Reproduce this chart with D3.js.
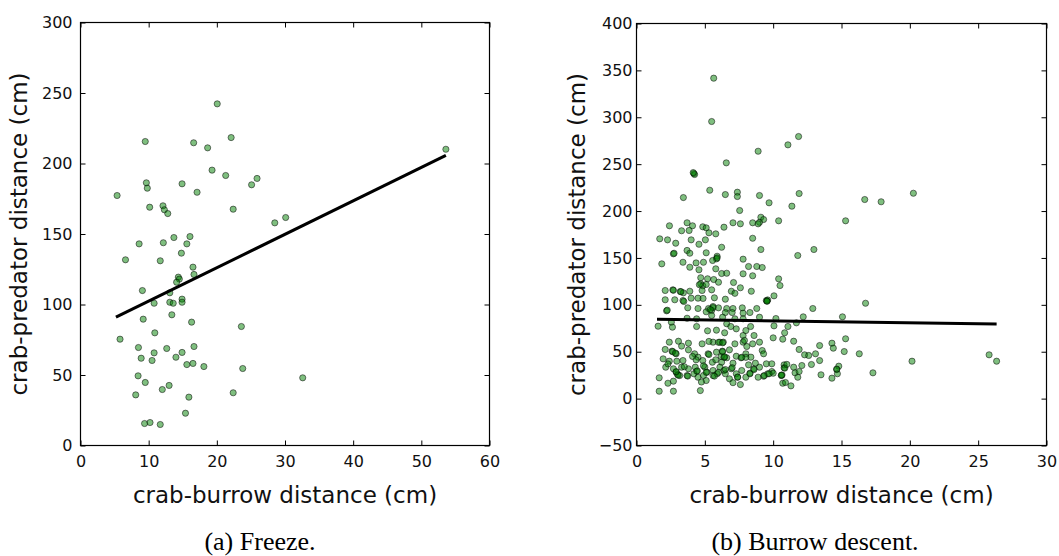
<!DOCTYPE html>
<html><head><meta charset="utf-8">
<script src="https://cdn.jsdelivr.net/npm/d3@7"></script>
<style>body{margin:0;background:#fff} svg{display:block}</style>
</head><body><svg id="c" width="1059" height="556"></svg>
<script>
// ---- Data: (a) Freeze ----
const freezePts = [[20.06,242.3],[9.5,215.6],[16.6,214.7],[22.1,218.4],[18.65,211.1],[19.3,195.3],[21.3,191.5],[25.1,184.9],[25.9,189.4],[9.66,186.3],[9.8,182.5],[14.9,185.6],[17.1,179.6],[5.37,177.3],[10.15,169],[12.1,170],[12.3,167.2],[12.8,164.5],[22.4,167.6],[28.5,157.9],[30.1,161.7],[8.6,143],[12.15,143.8],[13.7,147.5],[16.06,148.2],[15.6,143],[6.6,131.7],[11.7,131],[14.8,136.4],[16.5,126.5],[16.65,121.3],[14.35,119.4],[14.5,118],[14.1,115.8],[9.08,109.9],[13.1,108.3],[10.8,100.9],[13.1,101.6],[13.6,100.9],[14.9,103.8],[14.9,101.6],[9.2,89.6],[13.4,92.7],[16.3,87.5],[23.6,84.4],[10.9,79.9],[5.8,75.4],[8.5,69.5],[10.8,65.7],[12.65,68.8],[14.9,66],[16.65,70.2],[8.9,61.9],[10.5,60.3],[14.0,62.6],[15.6,57.4],[16.5,58.2],[18.1,56],[23.8,54.6],[8.45,49.4],[9.5,44.7],[12.0,39.7],[13.0,42.6],[8.1,35.9],[15.9,34.3],[22.4,37.4],[15.4,22.9],[9.4,15.6],[10.2,16.3],[11.7,14.9],[53.6,210.1],[32.6,48.0]];
const freezeX = freezePts.map(d => d[0]);
const freezeY = freezePts.map(d => d[1]);
const freezeFitX = [5.2, 53.6];
const freezeFitY = [91, 205.7];
const freezeXTicks = [0, 10, 20, 30, 40, 50, 60];
const freezeYTicks = [0, 50, 100, 150, 200, 250, 300];

// ---- Data: (b) Burrow descent ----
const descentPts = [[5.65,341.7],[5.5,295.5],[8.9,263.8],[6.57,251.4],[4.2,240],[4.25,239],[4.15,241],[5.36,222.2],[3.43,214.4],[6.5,217.6],[7.38,220.1],[7.38,215.5],[9.0,216.6],[9.7,208.8],[7.55,200.6],[11.08,270.6],[11.86,279.5],[11.9,218.7],[11.37,205.2],[16.7,212.3],[17.9,209.9],[20.26,219],[20.16,39.9],[25.8,46.7],[26.35,39.9],
[9.1,193.4],[9.3,191],[9.0,188],[10.4,189.6],[15.3,189.6],[9.1,159],[11.8,152.6],[12.98,159],[9.2,139.8],[10.4,127.7],[10.5,120.6],[10.06,109.6],[9.5,104.6],[9.6,105.2],[16.76,101.7],[12.9,96.1],[12.2,87.2],[15.07,87.2],[9.0,86.8],[10.2,85.4],[11.7,80.8],[10.06,77.6],[11.08,76.9],[10.84,70.2],[10.0,64.8],[10.7,63.4],[11.5,61.2],[15.3,63.8],[13.4,56.6],[14.3,59.1],[14.4,53.8],[11.9,52.4],[9.2,51.3],[9.3,47.8],[15.2,50.2],[16.3,47.8],[12.3,46.7],[12.6,46],[13.1,47.8],[13.4,40.6],[9.5,37.1],[9.9,37.1],[10.8,36],[10.8,32.9],[11.5,33.5],[12.1,35.3],[12.8,36.4],[14.8,34.6],[14.65,31],[14.7,26.5],[17.3,27.5],[9.0,33.5],[9.9,28.9],[10.0,27.1],[9.6,26.5],[10.6,24.6],[10.65,25.2],[9.3,23.9],[11.6,27.5],[11.9,28.9],[11.8,22.8],[13.5,25.4],[14.3,21.8],[10.7,16.4],[10.9,17.2],[11.3,13.6],
[7.06,187.5],[7.6,186.4],[8.5,187.5],[8.9,186.4],[2.41,184.3],[3.7,187.5],[4.1,184.3],[4.85,183.2],[5.1,182.1],[3.3,179],[3.85,179.3],[5.3,176.8],[5.8,175.7],[6.4,182.8],[1.7,170.4],[2.27,169.3],[2.87,165.7],[4.0,169.3],[4.57,164.6],[5.04,169.3],[6.23,161.4],[8.5,171],[2.7,154.4],[2.75,155],[3.7,158],[3.9,155],[5.1,155.5],[5.9,151.8],[5.85,149],[3.4,145.4],[3.9,140.1],[4.36,144.7],[4.9,145.4],[5.57,147.3],[1.85,143.7],[7.8,148.7],[8.2,140.9],[8.8,140.9],[4.57,137.4],[5.8,138.4],[6.23,133.4],[6.6,133.7],[7.8,133.1],[8.5,131],[4.7,128.9],[5.2,127.8],[5.65,127],[4.7,122.4],[4.85,120.3],[5.1,121.7],[6.0,124.1],[7.1,123.8],[7.6,118.2],[8.4,114.5],[2.1,115.3],[2.66,116],[3.2,114.2],[3.43,112.8],[3.9,114.5],[4.8,115.3],[5.5,116],[6.94,114.5],[7.2,112.3],[9.55,103.9],[2.1,105.4],[2.8,105.4],[3.4,104.6],[3.46,103.6],[4.0,107.1],[4.5,107.1],[4.87,106.8],[5.7,107.5],[6.5,106],[3.75,96.8],[2.2,93.6],[2.25,94.3],[4.5,96.1],[5.27,96.1],[5.6,98.2],[5.5,94],[5.1,92.6],[6.0,96.8],[6.6,96.1],[7.06,96.1],[7.74,96.8],[6.5,91.8],[7.0,91.8],[7.8,91.1],[8.3,91.8],[8.8,96.1],[2.55,81.5],[2.63,76.2],[1.58,77.2],[3.7,85.7],[4.4,85.1],[4.4,76.9],[5.5,88.6],[6.3,86.8],[7.2,85.1],[7.8,85.1],[8.35,76.9],[6.6,79.8],[6.9,76.9],[7.3,74.4],[5.85,73],[5.2,72.3],[6.45,70.2],[7.8,67.3],[8.0,72.6],[8.6,67.3],[2.4,60.2],[2.1,52.4],[3.07,61.2],[3.8,59.1],[4.8,58.4],[5.6,60.2],[6.1,60.2],[6.35,60.2],[7.2,58.4],[7.8,60.2],[8.07,55.6],[8.5,58.4],[9.0,60.2],[2.6,50.6],[2.9,47.8],[3.8,52],[4.25,47.8],[4.5,44.2],[5.24,47.8],[5.85,49.5],[6.28,50.6],[6.6,43.5],[6.2,44.9],[6.4,44],[7.3,45.2],[7.65,43.5],[8.0,47.8],[8.37,44.2],[8.7,37.8],[1.95,42.4],[2.4,39.9],[2.95,39.9],[3.4,40.6],[4.36,41.4],[4.85,40.6],[5.55,38.8],[5.8,41.4],[6.23,38.8],[7.06,37.8],[2.14,33.5],[2.7,31.8],[2.9,28.2],[3.3,33.5],[3.8,31.8],[4.3,33.5],[4.4,29.2],[5.0,33.5],[5.15,28.2],[5.6,30],[6.1,33.5],[6.4,30],[6.94,31.8],[7.3,26.5],[7.7,30],[8.3,27.1],[8.57,31.8],[1.66,22.2],[2.3,16.4],[2.7,18.6],[3.0,25.7],[3.16,24.6],[3.7,24.6],[4.2,26.5],[4.5,22.8],[4.9,24.6],[5.1,19.3],[5.6,24.6],[5.9,26.5],[6.5,26.5],[6.8,21.1],[7.4,22.8],[8.0,22.8],[8.3,26.5],[8.9,22.8],[9.35,24.6],[9.7,26.5],[1.66,7.9],[2.7,7.9],[4.67,8.6],[7.06,17],[7.6,15],[4.75,17.7],
[4.6,121.5],[5.6,97],[5.4,95],[2.65,50],[2.85,48.5],[6.3,50],[6.45,44.5],[8.6,31],[3.05,25],[4.45,29.5],[2.9,28.8],[5.9,150],[3.25,114],[2.7,115.5],[5.3,47],[6.0,60],[6.3,59.5],[7.4,23],[5.7,24],[3.75,24],[5.1,28],[6.5,31],[8.0,44],[9.55,104],[7.7,44],[10.6,25],[14.65,31.5],[10.85,32.5],[11.0,36.5],[3.5,34],[4.9,35],[7.0,33],[6.0,28],[5.3,61],[4.1,45],[7.9,62],[3.3,56],[2.3,37],[8.2,36],[6.8,52]];
const descentX = descentPts.map(d => d[0]);
const descentY = descentPts.map(d => d[1]);
const descentFitX = [1.5, 26.35];
const descentFitY = [84.5, 79.6];
const descentXTicks = [0, 5, 10, 15, 20, 25, 30];
const descentYTicks = [-50, 0, 50, 100, 150, 200, 250, 300, 350, 400];

const xLabel = "crab-burrow distance (cm)";
const yLabel = "crab-predator distance (cm)";

const svg = d3.select("#c");
const fmt = v => (v < 0 ? "\u2212" + Math.abs(v) : String(v));

function panel(o) {
  const x = d3.scaleLinear().domain(o.xDomain).range([o.left, o.right]);
  const y = d3.scaleLinear().domain(o.yDomain).range([o.bottom, o.top]);
  const g = svg.append("g");
  const tickFont = "DejaVu Sans";

  // points
  g.append("g").selectAll("circle").data(o.xs.map((v, i) => [v, o.ys[i]])).join("circle")
    .attr("cx", d => x(d[0])).attr("cy", d => y(d[1])).attr("r", 3.1)
    .attr("fill", "rgba(0,128,0,0.5)").attr("stroke", "rgba(0,0,0,0.5)").attr("stroke-width", 1);

  // regression line
  g.append("path").datum(o.fitX.map((v, i) => [v, o.fitY[i]]))
    .attr("d", d3.line().x(d => x(d[0])).y(d => y(d[1])))
    .attr("stroke", "#000").attr("stroke-width", 3).attr("fill", "none");

  const styleAxis = sel => {
    sel.select(".domain").remove();
    sel.selectAll(".tick line").attr("stroke", "#000").attr("stroke-width", 1);
    sel.selectAll("text").attr("font-family", tickFont).attr("font-size", 16).attr("fill", "#111");
  };
  g.append("g").attr("transform", `translate(0,${o.bottom})`)
    .call(d3.axisBottom(x).tickValues(o.xTicks).tickFormat(fmt).tickSizeInner(-5).tickSizeOuter(0).tickPadding(10))
    .call(styleAxis);
  g.append("g").attr("transform", `translate(0,${o.top})`)
    .call(d3.axisTop(x).tickValues(o.xTicks).tickFormat("").tickSizeInner(-5).tickSizeOuter(0))
    .call(styleAxis);
  g.append("g").attr("transform", `translate(${o.left},0)`)
    .call(d3.axisLeft(y).tickValues(o.yTicks).tickFormat(fmt).tickSizeInner(-5).tickSizeOuter(0).tickPadding(o.yPad))
    .call(styleAxis);
  g.append("g").attr("transform", `translate(${o.right},0)`)
    .call(d3.axisRight(y).tickValues(o.yTicks).tickFormat("").tickSizeInner(-5).tickSizeOuter(0))
    .call(styleAxis);

  // frame
  g.append("rect").attr("x", o.left).attr("y", o.top)
    .attr("width", o.right - o.left).attr("height", o.bottom - o.top)
    .attr("fill", "none").attr("stroke", "#000").attr("stroke-width", 1.2);

  // axis labels
  g.append("text").attr("x", (o.left + o.right) / 2).attr("y", 503)
    .attr("text-anchor", "middle").attr("font-family", tickFont).attr("font-size", 23).attr("fill", "#111")
    .text(xLabel);
  g.append("text").attr("transform", `translate(${o.yLabelX},${(o.top + o.bottom) / 2}) rotate(-90)`)
    .attr("text-anchor", "middle").attr("font-family", tickFont).attr("font-size", 23).attr("fill", "#111")
    .text(yLabel);

  // caption
  g.append("text").attr("x", o.capX).attr("y", 550)
    .attr("text-anchor", "middle").attr("font-family", "Liberation Serif").attr("font-size", 26).attr("fill", "#000")
    .text(o.caption);
}

panel({xs: freezeX, ys: freezeY, fitX: freezeFitX, fitY: freezeFitY,
  xDomain: [0, 60], yDomain: [0, 300], xTicks: freezeXTicks, yTicks: freezeYTicks,
  left: 80.5, right: 489.5, top: 22.5, bottom: 445.5, yPad: 8, yLabelX: 27, capX: 260,
  caption: "(a) Freeze."});
panel({xs: descentX, ys: descentY, fitX: descentFitX, fitY: descentFitY,
  xDomain: [0, 30], yDomain: [-50, 400], xTicks: descentXTicks, yTicks: descentYTicks,
  left: 636.5, right: 1046.5, top: 23.5, bottom: 445.5, yPad: 4, yLabelX: 585, capX: 815,
  caption: "(b) Burrow descent."});
</script>
</body></html>
